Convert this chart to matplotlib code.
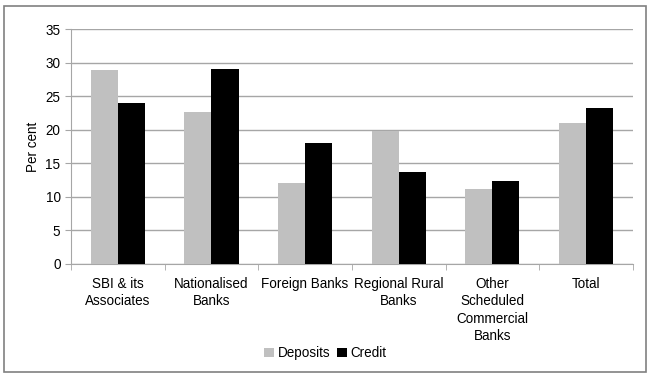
import numpy as np
import matplotlib.pyplot as plt
from matplotlib.patches import Rectangle

plt.rcParams['font.family'] = ['Liberation Sans', 'DejaVu Sans']

categories = ['SBI & its\nAssociates', 'Nationalised\nBanks', 'Foreign Banks',
              'Regional Rural\nBanks', 'Other\nScheduled\nCommercial\nBanks', 'Total']
deposits = [28.9, 22.6, 12.0, 19.8, 11.1, 21.0]
credit = [24.0, 29.0, 18.0, 13.7, 12.3, 23.3]

fig = plt.figure(figsize=(6.51, 3.78), dpi=100)
ax = fig.add_axes([0.109, 0.302, 0.863, 0.621])

x = np.arange(len(categories))
w = 0.29
ax.bar(x - w/2, deposits, w, color='#c0c0c0', label='Deposits', zorder=3)
ax.bar(x + w/2, credit, w, color='black', label='Credit', zorder=3)

ax.set_xlim(-0.5, len(categories) - 0.5)
ax.set_ylim(0, 35)
ax.set_yticks(range(0, 36, 5))
ax.yaxis.grid(True, color='#a6a6a6', linewidth=1, zorder=0)
for s in ['top', 'right']:
    ax.spines[s].set_visible(False)
ax.spines['left'].set_color('#a6a6a6')
ax.spines['bottom'].set_color('#a6a6a6')

fs = 9.75
ax.set_xticks(x)
ax.set_xticklabels(categories, fontsize=fs, va='top', linespacing=1.3)
ax.tick_params(axis='x', length=0, pad=9.5)
ax.set_xticks(np.arange(-0.5, len(categories), 1), minor=True)
ax.tick_params(axis='x', which='minor', length=4, color='#a6a6a6')
ax.tick_params(axis='y', labelsize=fs, length=4, color='#a6a6a6')
ax.set_ylabel('Per cent', fontsize=fs)

fig.legend(loc='center', bbox_to_anchor=(0.5, 0.066), ncol=2, frameon=False,
           fontsize=fs, handlelength=0.7, handleheight=0.7, handletextpad=0.3,
           columnspacing=0.5)

fig.patches.append(Rectangle((4/651, 6/378), 642/651, 366/378, transform=fig.transFigure,
                             fill=False, edgecolor='#808080', linewidth=1.2))

fig.savefig('out.png', dpi=100)
